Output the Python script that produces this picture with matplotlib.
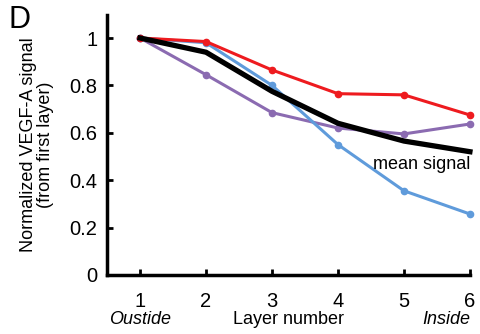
import matplotlib
matplotlib.use("Agg")
import matplotlib.pyplot as plt

layers = [1, 2, 3, 4, 5, 6]
red = [1.0, 0.985, 0.865, 0.765, 0.76, 0.675]
blue = [1.0, 0.98, 0.80, 0.55, 0.355, 0.257]
purple = [1.0, 0.845, 0.685, 0.62, 0.595, 0.637]
mean_signal = [1.0, 0.94, 0.775, 0.64, 0.565, 0.52]
yticks = [0, 0.2, 0.4, 0.6, 0.8, 1]
ytick_labels = ["0", "0.2", "0.4", "0.6", "0.8", "1"]

plt.rcParams["font.family"] = ["Liberation Sans", "DejaVu Sans"]

fig = plt.figure(figsize=(4.8, 3.34), dpi=100)
ax = fig.add_axes([0.223, 0.177, 0.756, 0.778])

kw = dict(lw=2.2, marker="o", ms=4.5, clip_on=False)
ax.plot(layers, purple, color="#8B6BB1", **kw)
ax.plot(layers, blue, color="#5F9BDB", **kw)
ax.plot(layers, red, color="#EE1B1F", **kw)
ax.plot(layers, mean_signal, color="black", lw=3.8, clip_on=False)

ax.set_xlim(0.5, 6.0)
ax.set_ylim(0, 1.097)
ax.set_xticks(layers)
ax.set_yticks(yticks)
ax.set_yticklabels(ytick_labels)
ax.tick_params(direction="in", length=4, width=2, labelsize=14.5)
ax.tick_params(axis="x", pad=12)
ax.tick_params(axis="y", pad=7)

for s in ["top", "right"]:
    ax.spines[s].set_visible(False)
for s in ["left", "bottom"]:
    ax.spines[s].set_linewidth(2.5)

ax.set_xlabel("Layer number", fontsize=13, labelpad=0)
ax.set_ylabel("Normalized VEGF-A signal\n(from first layer)", fontsize=13, labelpad=11,
              linespacing=1.0)

ax.text(1, -0.19, "Oustide", transform=ax.get_xaxis_transform(), ha="center", va="baseline",
        fontsize=13, style="italic")
ax.text(6.0, -0.19, "Inside", transform=ax.get_xaxis_transform(), ha="right", va="baseline",
        fontsize=13, style="italic")
ax.text(6.0, 0.43, "mean signal", ha="right", va="bottom", fontsize=13)

fig.text(0.018, 0.985, "D", fontsize=22, va="top", ha="left")

fig.savefig("out.png", dpi=100)
